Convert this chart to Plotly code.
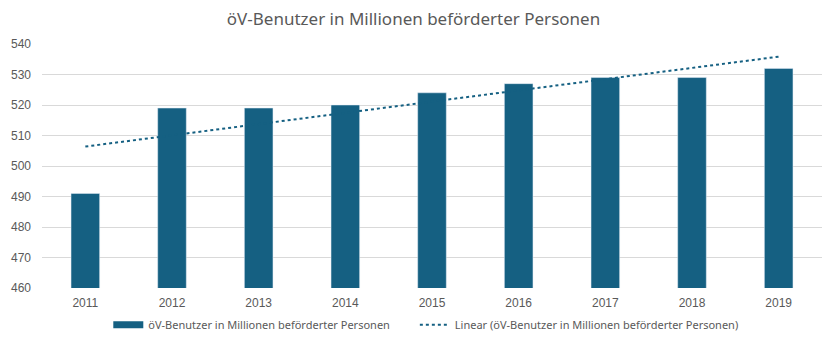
import numpy as np
import plotly.graph_objects as go

years = ["2011", "2012", "2013", "2014", "2015", "2016", "2017", "2018", "2019"]
values = [491, 519, 519, 520, 524, 527, 529, 529, 532]
series_name = "öV-Benutzer in Millionen beförderter Personen"
title_text = "öV-Benutzer in Millionen beförderter Personen"

# Linear trendline (least squares), as in the spreadsheet chart
xi = np.arange(1, len(values) + 1)
slope, intercept = np.polyfit(xi, values, 1)
trend = slope * xi + intercept

color = "#156082"
txt = "#595959"

fig = go.Figure()
fig.add_trace(go.Bar(x=years, y=values, name=series_name, marker_color=color,
                     width=0.33, showlegend=False))
# legend-only proxy to get a wide rectangular swatch like the original
fig.add_trace(go.Scatter(x=[None], y=[None], mode="lines", name=series_name,
                         line=dict(color=color, width=7), legend="legend"))
fig.add_trace(go.Scatter(x=years, y=trend, mode="lines",
                         name="Linear (" + series_name + ")",
                         line=dict(color=color, width=2, dash="dot"), legend="legend2"))

leg_font = dict(family="Noto Sans, sans-serif", size=11, color=txt)
fig.update_layout(
    width=827, height=340,
    margin=dict(l=42, r=5, t=44, b=52, autoexpand=False),
    paper_bgcolor="white", plot_bgcolor="white",
    title=dict(text=title_text, x=0.5, xanchor="center", y=0.945, yanchor="middle",
               font=dict(family="Noto Sans, Open Sans, sans-serif", size=17, color=txt)),
    font=dict(family="Liberation Sans, Arial, sans-serif", size=11, color=txt),
    showlegend=True,
    legend=dict(orientation="h", x=0.085, xanchor="left", y=0.045, yref="container",
                yanchor="middle", font=leg_font, itemwidth=30),
    legend2=dict(orientation="h", x=0.478, xanchor="left", y=0.045, yref="container",
                 yanchor="middle", font=leg_font, itemwidth=30),
    bargap=0.67,
)
fig.update_xaxes(showgrid=False, showline=False, ticks="", tickfont=dict(size=12, color=txt),
                 ticklabelstandoff=6)
fig.update_yaxes(range=[460, 540], dtick=10, showgrid=True, gridcolor="#d9d9d9",
                 gridwidth=1, zeroline=False, showline=False, ticks="",
                 tickfont=dict(size=12, color=txt), ticklabelstandoff=10)

fig.write_html("out.html")
